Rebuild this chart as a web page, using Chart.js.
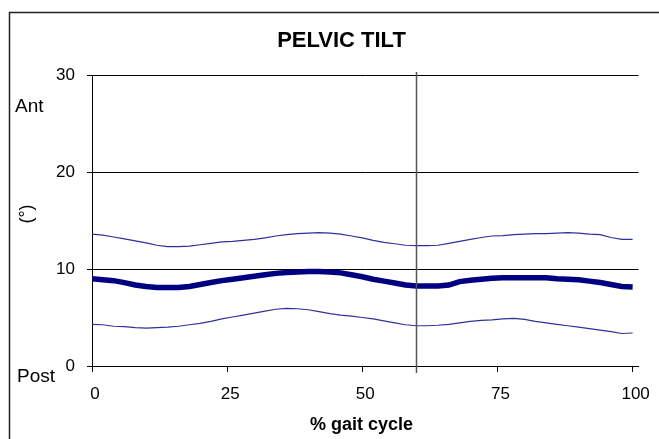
<!DOCTYPE html>
<html>
<head>
<meta charset="utf-8">
<title>Pelvic tilt</title>
<script src="https://cdn.jsdelivr.net/npm/chart.js@4/dist/chart.umd.min.js"></script>
<style>
  html, body { margin: 0; padding: 0; background: #fff; }
  canvas { display: block; }
</style>
</head>
<body>
<canvas id="chart" width="659" height="439"></canvas>
<script>
// Pelvic tilt over the gait cycle: mean with upper/lower bounds (degrees)
const gaitPct = [0, 2, 4, 6, 8, 10, 12, 14, 16, 18, 20, 22, 24, 26, 28, 30, 32, 34, 36, 38, 40,
  42, 44, 46, 48, 50, 52, 54, 56, 58, 60, 62, 64, 66, 68, 70, 72, 74, 76, 78, 80,
  82, 84, 86, 88, 90, 92, 94, 96, 98, 100];

const upperTilt = [13.6, 13.5, 13.3, 13.1, 12.9, 12.7, 12.45, 12.3, 12.3, 12.35, 12.5,
  12.65, 12.8, 12.85, 12.95, 13.05, 13.2, 13.4, 13.55, 13.65, 13.7,
  13.75, 13.7, 13.6, 13.4, 13.2, 12.95, 12.75, 12.6, 12.45, 12.4,
  12.4, 12.45, 12.65, 12.85, 13.05, 13.25, 13.4, 13.45, 13.55, 13.6,
  13.65, 13.65, 13.7, 13.75, 13.7, 13.6, 13.55, 13.25, 13.05, 13.05];

const meanTilt = [9.0, 8.9, 8.8, 8.6, 8.35, 8.2, 8.1, 8.1, 8.1, 8.2, 8.4,
  8.6, 8.8, 8.95, 9.1, 9.25, 9.4, 9.55, 9.65, 9.7, 9.75,
  9.75, 9.7, 9.6, 9.4, 9.2, 8.95, 8.75, 8.55, 8.35, 8.25,
  8.25, 8.25, 8.35, 8.7, 8.85, 8.95, 9.05, 9.1, 9.1, 9.1,
  9.1, 9.1, 9.0, 8.95, 8.9, 8.75, 8.6, 8.4, 8.2, 8.15];

const lowerTilt = [4.3, 4.25, 4.1, 4.05, 3.95, 3.9, 3.95, 4.0, 4.1, 4.25, 4.4,
  4.6, 4.85, 5.05, 5.25, 5.45, 5.65, 5.85, 5.95, 5.9, 5.8,
  5.6, 5.4, 5.25, 5.15, 5.0, 4.85, 4.65, 4.45, 4.25, 4.15,
  4.15, 4.2, 4.3, 4.45, 4.6, 4.7, 4.75, 4.85, 4.9, 4.8,
  4.6, 4.45, 4.3, 4.15, 4.0, 3.85, 3.7, 3.55, 3.35, 3.4];

const xTickValues = [0, 25, 50, 75, 100];
const yTickValues = [0, 10, 20, 30];
const toeOffPct = 60;

const chartTitle = 'PELVIC TILT';
const xAxisTitle = '% gait cycle';
const yAxisUnit = '(\u00b0)';
const topLabel = 'Ant';
const bottomLabel = 'Post';

const FONT = '"Liberation Sans", Arial, Helvetica, sans-serif';

function toPoints(values) {
  return gaitPct.map((x, i) => ({ x: x, y: values[i] }));
}

// Frame, titles, side labels and the toe-off marker
const decorations = {
  id: 'decorations',
  beforeDraw(chart) {
    const ctx = chart.ctx;
    ctx.save();
    ctx.fillStyle = '#fff';
    ctx.fillRect(0, 0, chart.width, chart.height);
    ctx.strokeStyle = '#222';
    ctx.lineWidth = 1.5;
    ctx.beginPath();
    ctx.moveTo(chart.width + 5, 12.5);
    ctx.lineTo(9.5, 12.5);
    ctx.lineTo(9.5, chart.height + 5);
    ctx.stroke();
    ctx.restore();
  },
  afterDraw(chart) {
    const ctx = chart.ctx;
    const area = chart.chartArea;
    const xs = chart.scales.x;
    ctx.save();
    // toe-off marker
    const px = Math.round(xs.getPixelForValue(toeOffPct)) + 0.5;
    ctx.strokeStyle = '#555';
    ctx.lineWidth = 1.5;
    ctx.beginPath();
    ctx.moveTo(px, area.top - 3);
    ctx.lineTo(px, area.bottom + 7);
    ctx.stroke();

    ctx.fillStyle = '#000';
    ctx.textBaseline = 'alphabetic';
    ctx.textAlign = 'center';
    ctx.font = 'bold 22px ' + FONT;
    ctx.fillText(chartTitle, 341.5, 47);
    ctx.font = 'bold 18px ' + FONT;
    ctx.fillText(xAxisTitle, 361.5, 430);

    ctx.textAlign = 'left';
    ctx.font = '19px ' + FONT;
    ctx.fillText(topLabel, 15, 112);
    ctx.fillText(bottomLabel, 17, 382);

    ctx.translate(27, 214);
    ctx.rotate(-Math.PI / 2);
    ctx.textAlign = 'center';
    ctx.textBaseline = 'middle';
    ctx.font = '18px ' + FONT;
    ctx.fillText(yAxisUnit, 0, 0);
    ctx.restore();
  }
};

new Chart(document.getElementById('chart'), {
  type: 'line',
  data: {
    datasets: [
      {
        label: 'Upper',
        data: toPoints(upperTilt),
        borderColor: '#30309c',
        borderWidth: 1.2,
        pointRadius: 0,
        tension: 0
      },
      {
        label: 'Mean',
        data: toPoints(meanTilt),
        borderColor: '#000080',
        borderWidth: 5.5,
        pointRadius: 0,
        tension: 0
      },
      {
        label: 'Lower',
        data: toPoints(lowerTilt),
        borderColor: '#30309c',
        borderWidth: 1.2,
        pointRadius: 0,
        tension: 0
      }
    ]
  },
  options: {
    responsive: false,
    animation: false,
    devicePixelRatio: 1,
    layout: { padding: { top: 75, right: 17, bottom: 0, left: 0 } },
    plugins: {
      legend: { display: false },
      title: { display: false },
      tooltip: { enabled: false }
    },
    scales: {
      x: {
        type: 'linear',
        min: 0,
        max: 101.1,
        afterBuildTicks(scale) {
          scale.ticks = xTickValues.map(v => ({ value: v }));
        },
        afterFit(scale) { scale.height = 73; },
        grid: {
          drawOnChartArea: false,
          drawTicks: true,
          tickLength: 6,
          color: '#000',
          lineWidth: 1
        },
        border: { display: true, color: '#000', width: 1 },
        ticks: {
          padding: 12,
          labelOffset: 3,
          color: '#000',
          font: { family: FONT, size: 17 },
          maxRotation: 0
        }
      },
      y: {
        type: 'linear',
        min: 0,
        max: 30,
        afterBuildTicks(scale) {
          scale.ticks = yTickValues.map(v => ({ value: v }));
        },
        afterFit(scale) { scale.width = 92; },
        grid: {
          drawOnChartArea: true,
          drawTicks: true,
          tickLength: 5,
          color: '#000',
          lineWidth: 1
        },
        border: { display: true, color: '#000', width: 1 },
        ticks: {
          padding: 12,
          color: '#000',
          font: { family: FONT, size: 17 }
        }
      }
    }
  },
  plugins: [decorations]
});
</script>
</body>
</html>
